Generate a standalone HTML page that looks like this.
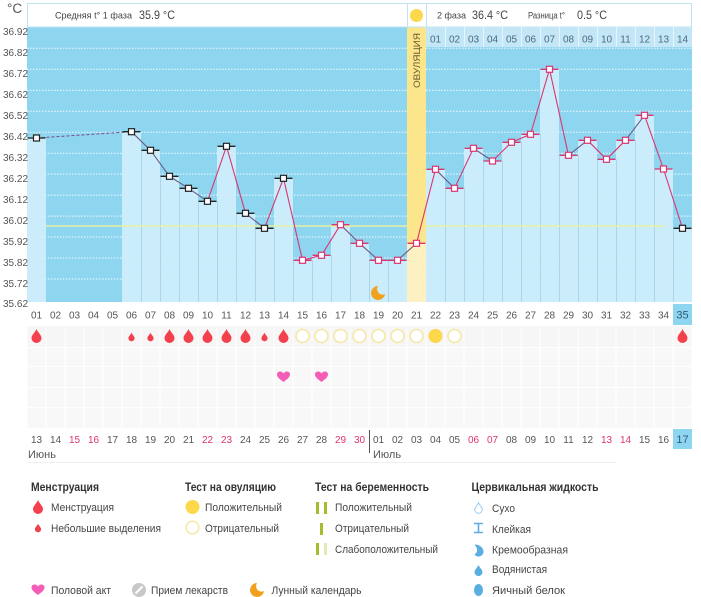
<!DOCTYPE html>
<html><head><meta charset="utf-8"><style>
html,body{margin:0;padding:0;background:#fff;}
svg{display:block;font-family:"Liberation Sans",sans-serif;}
</style></head><body>
<svg width="701" height="597" viewBox="0 0 701 597" xmlns="http://www.w3.org/2000/svg">
<rect width="701" height="597" fill="#fff"/>
<!-- chart background -->
<rect x="27" y="27" width="665" height="275" fill="#8ed5f0"/>
<!-- gridlines -->
<g stroke="#fff" stroke-width="1" stroke-dasharray="1.5 1.5" opacity="0.9">
<line x1="27" x2="692" y1="48.3" y2="48.3"/><line x1="27" x2="692" y1="69.3" y2="69.3"/>
<line x1="27" x2="692" y1="90.2" y2="90.2"/><line x1="27" x2="692" y1="111.2" y2="111.2"/>
<line x1="27" x2="692" y1="132.2" y2="132.2"/><line x1="27" x2="692" y1="153.2" y2="153.2"/>
<line x1="27" x2="692" y1="174.1" y2="174.1"/><line x1="27" x2="692" y1="195.1" y2="195.1"/>
<line x1="27" x2="692" y1="216.1" y2="216.1"/><line x1="27" x2="692" y1="237" y2="237"/>
<line x1="27" x2="692" y1="258" y2="258"/><line x1="27" x2="692" y1="279" y2="279"/>
</g>
<!-- bars -->
<g fill="#d0eefb" fill-opacity="0.92">
<rect x="27" y="138" width="19" height="164"/>
<rect x="122" y="131.7" width="19" height="170.3"/>
<rect x="141" y="150.3" width="19" height="151.7"/>
<rect x="160" y="176.3" width="19" height="125.7"/>
<rect x="179" y="188.3" width="19" height="113.7"/>
<rect x="198" y="201.3" width="19" height="100.7"/>
<rect x="217" y="146.3" width="19" height="155.7"/>
<rect x="236" y="213.3" width="19" height="88.7"/>
<rect x="255" y="228.3" width="19" height="73.7"/>
<rect x="274" y="178.3" width="19" height="123.7"/>
<rect x="293" y="260.3" width="19" height="41.7"/>
<rect x="312" y="255.3" width="19" height="46.7"/>
<rect x="331" y="224.7" width="19" height="77.3"/>
<rect x="350" y="243.3" width="19" height="58.7"/>
<rect x="369" y="260.3" width="19" height="41.7"/>
<rect x="388" y="260.3" width="19" height="41.7"/>
<rect x="426" y="169.3" width="19" height="132.7"/>
<rect x="445" y="188.3" width="19" height="113.7"/>
<rect x="464" y="148.3" width="19" height="153.7"/>
<rect x="483" y="161" width="19" height="141"/>
<rect x="502" y="142.3" width="19" height="159.7"/>
<rect x="521" y="134.3" width="19" height="167.7"/>
<rect x="540" y="69.3" width="19" height="232.7"/>
<rect x="559" y="155.3" width="19" height="146.7"/>
<rect x="578" y="140.3" width="19" height="161.7"/>
<rect x="597" y="159.3" width="19" height="142.7"/>
<rect x="616" y="140.3" width="19" height="161.7"/>
<rect x="635" y="115.3" width="19" height="186.7"/>
<rect x="654" y="169" width="19" height="133"/>
<rect x="673" y="228.3" width="19" height="73.7"/>
</g>
<!-- bar separators -->
<g stroke="#a9d6ea" stroke-width="1">
<line x1="141.5" x2="141.5" y1="150.3" y2="302"/><line x1="160.5" x2="160.5" y1="176.3" y2="302"/>
<line x1="179.5" x2="179.5" y1="188.3" y2="302"/><line x1="198.5" x2="198.5" y1="201.3" y2="302"/>
<line x1="217.5" x2="217.5" y1="201.3" y2="302"/><line x1="236.5" x2="236.5" y1="213.3" y2="302"/>
<line x1="255.5" x2="255.5" y1="228.3" y2="302"/><line x1="274.5" x2="274.5" y1="228.3" y2="302"/>
<line x1="293.5" x2="293.5" y1="260.3" y2="302"/><line x1="312.5" x2="312.5" y1="260.3" y2="302"/>
<line x1="331.5" x2="331.5" y1="255.3" y2="302"/><line x1="350.5" x2="350.5" y1="243.3" y2="302"/>
<line x1="369.5" x2="369.5" y1="260.3" y2="302"/><line x1="388.5" x2="388.5" y1="260.3" y2="302"/>
<line x1="445.5" x2="445.5" y1="188.3" y2="302"/><line x1="464.5" x2="464.5" y1="188.3" y2="302"/>
<line x1="483.5" x2="483.5" y1="161" y2="302"/><line x1="502.5" x2="502.5" y1="161" y2="302"/>
<line x1="521.5" x2="521.5" y1="142.3" y2="302"/><line x1="540.5" x2="540.5" y1="134.3" y2="302"/>
<line x1="559.5" x2="559.5" y1="155.3" y2="302"/><line x1="578.5" x2="578.5" y1="155.3" y2="302"/>
<line x1="597.5" x2="597.5" y1="159.3" y2="302"/><line x1="616.5" x2="616.5" y1="159.3" y2="302"/>
<line x1="635.5" x2="635.5" y1="140.3" y2="302"/><line x1="654.5" x2="654.5" y1="169" y2="302"/>
<line x1="673.5" x2="673.5" y1="228.3" y2="302"/>
</g>
<!-- coverline -->
<line x1="46" x2="665" y1="226" y2="226" stroke="#e6f2a2" stroke-width="1.5"/>
<!-- ovulation column -->
<rect x="407" y="27" width="19" height="275" fill="#fce68c"/>
<rect x="407" y="243.3" width="19" height="58.7" fill="#fdf1c4"/>
<text transform="translate(420,88) rotate(-90)" font-size="9.5" fill="#6b5a2c" textLength="55" lengthAdjust="spacingAndGlyphs">ОВУЛЯЦИЯ</text>
<!-- header -->
<rect x="27.5" y="3.5" width="664" height="23.5" fill="#fff" stroke="#bfe3f2" stroke-width="1"/>
<line x1="407.5" x2="407.5" y1="3.5" y2="27" stroke="#bfe3f2"/>
<line x1="426.5" x2="426.5" y1="3.5" y2="27" stroke="#bfe3f2"/>
<circle cx="416.5" cy="15.5" r="6.5" fill="#fcd84a"/>
<text x="55" y="18.5" font-size="9.5" fill="#444" textLength="77" lengthAdjust="spacingAndGlyphs">Средняя t° 1 фаза</text>
<text x="139" y="19" font-size="12" fill="#444" textLength="36" lengthAdjust="spacingAndGlyphs">35.9 °C</text>
<text x="437" y="18.5" font-size="9.5" fill="#444" textLength="29" lengthAdjust="spacingAndGlyphs">2 фаза</text>
<text x="472" y="19" font-size="12" fill="#444" textLength="36" lengthAdjust="spacingAndGlyphs">36.4 °C</text>
<text x="528" y="18.5" font-size="9" fill="#444" textLength="37" lengthAdjust="spacingAndGlyphs">Разница t°</text>
<text x="577" y="19" font-size="12" fill="#444" textLength="30" lengthAdjust="spacingAndGlyphs">0.5 °C</text>
<text x="7" y="13" font-size="13.5" fill="#555">°C</text>
<!-- phase 2 day numbers row -->
<rect x="426" y="27" width="266" height="20" fill="#c3e7f7"/>
<g stroke="#e6f5fc" stroke-width="1">
<line x1="445.5" x2="445.5" y1="27" y2="47"/><line x1="464.5" x2="464.5" y1="27" y2="47"/>
<line x1="483.5" x2="483.5" y1="27" y2="47"/><line x1="502.5" x2="502.5" y1="27" y2="47"/>
<line x1="521.5" x2="521.5" y1="27" y2="47"/><line x1="540.5" x2="540.5" y1="27" y2="47"/>
<line x1="559.5" x2="559.5" y1="27" y2="47"/><line x1="578.5" x2="578.5" y1="27" y2="47"/>
<line x1="597.5" x2="597.5" y1="27" y2="47"/><line x1="616.5" x2="616.5" y1="27" y2="47"/>
<line x1="635.5" x2="635.5" y1="27" y2="47"/><line x1="654.5" x2="654.5" y1="27" y2="47"/>
<line x1="673.5" x2="673.5" y1="27" y2="47"/>
</g>
<g font-size="10" fill="#4d6a7d" text-anchor="middle">
<text x="435.5" y="42.5">01</text><text x="454.5" y="42.5">02</text><text x="473.5" y="42.5">03</text>
<text x="492.5" y="42.5">04</text><text x="511.5" y="42.5">05</text><text x="530.5" y="42.5">06</text>
<text x="549.5" y="42.5">07</text><text x="568.5" y="42.5">08</text><text x="587.5" y="42.5">09</text>
<text x="606.5" y="42.5">10</text><text x="625.5" y="42.5">11</text><text x="644.5" y="42.5">12</text>
<text x="663.5" y="42.5">13</text><text x="682.5" y="42.5">14</text>
</g>
<!-- y labels -->
<g font-size="10" fill="#555">
<text x="3" y="35">36.92</text><text x="3" y="56">36.82</text><text x="3" y="77">36.72</text>
<text x="3" y="98">36.62</text><text x="3" y="119">36.52</text><text x="3" y="140">36.42</text>
<text x="3" y="161">36.32</text><text x="3" y="182">36.22</text><text x="3" y="203">36.12</text>
<text x="3" y="224">36.02</text><text x="3" y="245">35.92</text><text x="3" y="266">35.82</text>
<text x="3" y="287">35.72</text><text x="3" y="307">35.62</text>
</g>
<!-- moon in chart -->
<path transform="translate(379,293)" d="M-1,-7 A7,7 0 1,0 6,1 A5.5,5.5 0 0,1 -1,-7Z" fill="#f2a11e"/>
<!-- temperature line -->
<line x1="36.5" y1="138" x2="131.5" y2="131.7" stroke="#7a4d86" stroke-width="1" stroke-dasharray="3 2"/>
<g stroke-width="1.1" fill="none">
<polyline stroke="#6e5a86" points="131.5,131.7 150.5,150.3 169.5,176.3 188.5,188.3 207.5,201.3"/>
<polyline stroke="#d93672" points="207.5,201.3 226.5,146.3 245.5,213.3"/>
<line stroke="#6e5a86" x1="245.5" y1="213.3" x2="264.5" y2="228.3"/>
<polyline stroke="#d93672" points="264.5,228.3 283.5,178.3 302.5,260.3 321.5,255.3 340.5,224.7"/>
<polyline stroke="#6e5a86" points="340.5,224.7 359.5,243.3 378.5,260.3 397.5,260.3 416.5,243.3"/>
<line stroke="#d93672" x1="416.5" y1="243.3" x2="435.5" y2="169.3"/>
<line stroke="#6e5a86" x1="435.5" y1="169.3" x2="454.5" y2="188.3"/>
<line stroke="#d93672" x1="454.5" y1="188.3" x2="473.5" y2="148.3"/>
<line stroke="#6e5a86" x1="473.5" y1="148.3" x2="492.5" y2="161"/>
<polyline stroke="#d93672" points="492.5,161 511.5,142.3 530.5,134.3 549.5,69.3 568.5,155.3"/>
<line stroke="#6e5a86" x1="568.5" y1="155.3" x2="587.5" y2="140.3"/>
<polyline stroke="#d93672" points="587.5,140.3 606.5,159.3 625.5,140.3"/>
<line stroke="#6e5a86" x1="625.5" y1="140.3" x2="644.5" y2="115.3"/>
<polyline stroke="#d93672" points="644.5,115.3 663.5,169 682.5,228.3"/>
</g>
<!-- ticks black -->
<g stroke="#222" stroke-width="1.3">
<line x1="27.5" x2="45.5" y1="138" y2="138"/><line x1="122.5" x2="140.5" y1="131.7" y2="131.7"/>
<line x1="141.5" x2="159.5" y1="150.3" y2="150.3"/><line x1="160.5" x2="178.5" y1="176.3" y2="176.3"/>
<line x1="179.5" x2="197.5" y1="188.3" y2="188.3"/><line x1="198.5" x2="216.5" y1="201.3" y2="201.3"/>
<line x1="217.5" x2="235.5" y1="146.3" y2="146.3"/><line x1="236.5" x2="254.5" y1="213.3" y2="213.3"/>
<line x1="255.5" x2="273.5" y1="228.3" y2="228.3"/><line x1="274.5" x2="292.5" y1="178.3" y2="178.3"/>
<line x1="673.5" x2="691.5" y1="228.3" y2="228.3"/>
</g>
<g stroke="#d93672" stroke-width="1.3">
<line x1="293.5" x2="311.5" y1="260.3" y2="260.3"/><line x1="312.5" x2="330.5" y1="255.3" y2="255.3"/>
<line x1="331.5" x2="349.5" y1="224.7" y2="224.7"/><line x1="350.5" x2="368.5" y1="243.3" y2="243.3"/>
<line x1="369.5" x2="387.5" y1="260.3" y2="260.3"/><line x1="388.5" x2="406.5" y1="260.3" y2="260.3"/>
<line x1="407.5" x2="425.5" y1="243.3" y2="243.3"/><line x1="426.5" x2="444.5" y1="169.3" y2="169.3"/>
<line x1="445.5" x2="463.5" y1="188.3" y2="188.3"/><line x1="464.5" x2="482.5" y1="148.3" y2="148.3"/>
<line x1="483.5" x2="501.5" y1="161" y2="161"/><line x1="502.5" x2="520.5" y1="142.3" y2="142.3"/>
<line x1="521.5" x2="539.5" y1="134.3" y2="134.3"/><line x1="540.5" x2="558.5" y1="69.3" y2="69.3"/>
<line x1="559.5" x2="577.5" y1="155.3" y2="155.3"/><line x1="578.5" x2="596.5" y1="140.3" y2="140.3"/>
<line x1="597.5" x2="615.5" y1="159.3" y2="159.3"/><line x1="616.5" x2="634.5" y1="140.3" y2="140.3"/>
<line x1="635.5" x2="653.5" y1="115.3" y2="115.3"/><line x1="654.5" x2="672.5" y1="169" y2="169"/>
</g>
<!-- markers -->
<g fill="#fff" stroke="#222" stroke-width="1.2">
<rect x="33.5" y="135" width="6" height="6"/><rect x="128.5" y="128.7" width="6" height="6"/>
<rect x="147.5" y="147.3" width="6" height="6"/><rect x="166.5" y="173.3" width="6" height="6"/>
<rect x="185.5" y="185.3" width="6" height="6"/><rect x="204.5" y="198.3" width="6" height="6"/>
<rect x="223.5" y="143.3" width="6" height="6"/><rect x="242.5" y="210.3" width="6" height="6"/>
<rect x="261.5" y="225.3" width="6" height="6"/><rect x="280.5" y="175.3" width="6" height="6"/>
<rect x="679.5" y="225.3" width="6" height="6"/>
</g>
<g fill="#fff" stroke="#d93672" stroke-width="1.2">
<rect x="299.5" y="257.3" width="6" height="6"/><rect x="318.5" y="252.3" width="6" height="6"/>
<rect x="337.5" y="221.7" width="6" height="6"/><rect x="356.5" y="240.3" width="6" height="6"/>
<rect x="375.5" y="257.3" width="6" height="6"/><rect x="394.5" y="257.3" width="6" height="6"/>
<rect x="413.5" y="240.3" width="6" height="6"/><rect x="432.5" y="166.3" width="6" height="6"/>
<rect x="451.5" y="185.3" width="6" height="6"/><rect x="470.5" y="145.3" width="6" height="6"/>
<rect x="489.5" y="158" width="6" height="6"/><rect x="508.5" y="139.3" width="6" height="6"/>
<rect x="527.5" y="131.3" width="6" height="6"/><rect x="546.5" y="66.3" width="6" height="6"/>
<rect x="565.5" y="152.3" width="6" height="6"/><rect x="584.5" y="137.3" width="6" height="6"/>
<rect x="603.5" y="156.3" width="6" height="6"/><rect x="622.5" y="137.3" width="6" height="6"/>
<rect x="641.5" y="112.3" width="6" height="6"/><rect x="660.5" y="166" width="6" height="6"/>
</g>
<!-- x labels -->
<rect x="673" y="304" width="19" height="21" fill="#8ed5f0"/>
<g font-size="10" fill="#555" text-anchor="middle">
<text x="36.5" y="318.5">01</text><text x="55.5" y="318.5">02</text><text x="74.5" y="318.5">03</text>
<text x="93.5" y="318.5">04</text><text x="112.5" y="318.5">05</text><text x="131.5" y="318.5">06</text>
<text x="150.5" y="318.5">07</text><text x="169.5" y="318.5">08</text><text x="188.5" y="318.5">09</text>
<text x="207.5" y="318.5">10</text><text x="226.5" y="318.5">11</text><text x="245.5" y="318.5">12</text>
<text x="264.5" y="318.5">13</text><text x="283.5" y="318.5">14</text><text x="302.5" y="318.5">15</text>
<text x="321.5" y="318.5">16</text><text x="340.5" y="318.5">17</text><text x="359.5" y="318.5">18</text>
<text x="378.5" y="318.5">19</text><text x="397.5" y="318.5">20</text><text x="416.5" y="318.5">21</text>
<text x="435.5" y="318.5">22</text><text x="454.5" y="318.5">23</text><text x="473.5" y="318.5">24</text>
<text x="492.5" y="318.5">25</text><text x="511.5" y="318.5">26</text><text x="530.5" y="318.5">27</text>
<text x="549.5" y="318.5">28</text><text x="568.5" y="318.5">29</text><text x="587.5" y="318.5">30</text>
<text x="606.5" y="318.5">31</text><text x="625.5" y="318.5">32</text><text x="644.5" y="318.5">33</text>
<text x="663.5" y="318.5">34</text><text x="682.5" y="318.5" font-size="11" fill="#2d5a78">35</text>
</g>
<!-- faint grid cells -->
<defs>
<pattern id="cells" x="27" y="326" width="19" height="102" patternUnits="userSpaceOnUse">
<rect x="0.5" y="0" width="18" height="21" fill="#f6f6f6"/>
<rect x="0.5" y="22" width="18" height="18" fill="#f8f8f8"/>
<rect x="0.5" y="41" width="18" height="20" fill="#f8f8f8"/>
<rect x="0.5" y="62" width="18" height="19" fill="#f8f8f8"/>
<rect x="0.5" y="82" width="18" height="20" fill="#f8f8f8"/>
</pattern>
</defs>
<rect x="27" y="326" width="665" height="102" fill="url(#cells)"/>
<!-- drops -->
<g fill="#f2404c">
<path transform="translate(36.5,336)" d="M0,-7 C1,-4 5,-1 5,2 A5,5 0 0 1 -5,2 C-5,-1 -1,-4 0,-7Z"/>
<path transform="translate(131.5,337) scale(0.62)" d="M0,-7 C1,-4 5,-1 5,2 A5,5 0 0 1 -5,2 C-5,-1 -1,-4 0,-7Z"/>
<path transform="translate(150.5,337) scale(0.62)" d="M0,-7 C1,-4 5,-1 5,2 A5,5 0 0 1 -5,2 C-5,-1 -1,-4 0,-7Z"/>
<path transform="translate(169.5,336)" d="M0,-7 C1,-4 5,-1 5,2 A5,5 0 0 1 -5,2 C-5,-1 -1,-4 0,-7Z"/>
<path transform="translate(188.5,336)" d="M0,-7 C1,-4 5,-1 5,2 A5,5 0 0 1 -5,2 C-5,-1 -1,-4 0,-7Z"/>
<path transform="translate(207.5,336)" d="M0,-7 C1,-4 5,-1 5,2 A5,5 0 0 1 -5,2 C-5,-1 -1,-4 0,-7Z"/>
<path transform="translate(226.5,336)" d="M0,-7 C1,-4 5,-1 5,2 A5,5 0 0 1 -5,2 C-5,-1 -1,-4 0,-7Z"/>
<path transform="translate(245.5,336)" d="M0,-7 C1,-4 5,-1 5,2 A5,5 0 0 1 -5,2 C-5,-1 -1,-4 0,-7Z"/>
<path transform="translate(264.5,337) scale(0.62)" d="M0,-7 C1,-4 5,-1 5,2 A5,5 0 0 1 -5,2 C-5,-1 -1,-4 0,-7Z"/>
<path transform="translate(283.5,336)" d="M0,-7 C1,-4 5,-1 5,2 A5,5 0 0 1 -5,2 C-5,-1 -1,-4 0,-7Z"/>
<path transform="translate(682.5,336)" d="M0,-7 C1,-4 5,-1 5,2 A5,5 0 0 1 -5,2 C-5,-1 -1,-4 0,-7Z"/>
</g>
<!-- ovulation tests -->
<g fill="#fff" stroke="#f6e7a6" stroke-width="1.6">
<circle cx="302.5" cy="336" r="6.5"/><circle cx="321.5" cy="336" r="6.5"/><circle cx="340.5" cy="336" r="6.5"/>
<circle cx="359.5" cy="336" r="6.5"/><circle cx="378.5" cy="336" r="6.5"/><circle cx="397.5" cy="336" r="6.5"/>
<circle cx="416.5" cy="336" r="6.5"/><circle cx="454.5" cy="336" r="6.5"/>
</g>
<circle cx="435.5" cy="336" r="7" fill="#fcd84a"/>
<!-- hearts -->
<g fill="#f45db6">
<path transform="translate(283.5,377)" d="M0,5 C-4,2 -6.5,0 -6.5,-2.5 C-6.5,-4.5 -5,-5.5 -3.3,-5.5 C-1.8,-5.5 -0.6,-4.6 0,-3.5 C0.6,-4.6 1.8,-5.5 3.3,-5.5 C5,-5.5 6.5,-4.5 6.5,-2.5 C6.5,0 4,2 0,5Z"/>
<path transform="translate(321.5,377)" d="M0,5 C-4,2 -6.5,0 -6.5,-2.5 C-6.5,-4.5 -5,-5.5 -3.3,-5.5 C-1.8,-5.5 -0.6,-4.6 0,-3.5 C0.6,-4.6 1.8,-5.5 3.3,-5.5 C5,-5.5 6.5,-4.5 6.5,-2.5 C6.5,0 4,2 0,5Z"/>
</g>
<!-- dates row -->
<rect x="673" y="429" width="19" height="20" fill="#8ed5f0"/>
<g font-size="10" fill="#555" text-anchor="middle">
<text x="36.5" y="443">13</text><text x="55.5" y="443">14</text><text x="74.5" y="443" fill="#e0356e">15</text>
<text x="93.5" y="443" fill="#e0356e">16</text><text x="112.5" y="443">17</text><text x="131.5" y="443">18</text>
<text x="150.5" y="443">19</text><text x="169.5" y="443">20</text><text x="188.5" y="443">21</text>
<text x="207.5" y="443" fill="#e0356e">22</text><text x="226.5" y="443" fill="#e0356e">23</text><text x="245.5" y="443">24</text>
<text x="264.5" y="443">25</text><text x="283.5" y="443">26</text><text x="302.5" y="443">27</text>
<text x="321.5" y="443">28</text><text x="340.5" y="443" fill="#e0356e">29</text><text x="359.5" y="443" fill="#e0356e">30</text>
<text x="378.5" y="443">01</text><text x="397.5" y="443">02</text><text x="416.5" y="443">03</text>
<text x="435.5" y="443">04</text><text x="454.5" y="443">05</text><text x="473.5" y="443" fill="#e0356e">06</text>
<text x="492.5" y="443" fill="#e0356e">07</text><text x="511.5" y="443">08</text><text x="530.5" y="443">09</text>
<text x="549.5" y="443">10</text><text x="568.5" y="443">11</text><text x="587.5" y="443">12</text>
<text x="606.5" y="443" fill="#e0356e">13</text><text x="625.5" y="443" fill="#e0356e">14</text><text x="644.5" y="443">15</text>
<text x="663.5" y="443">16</text><text x="682.5" y="443" font-size="11" fill="#2d5a78">17</text>
</g>
<line x1="369.5" x2="369.5" y1="430" y2="453" stroke="#555" stroke-width="1"/>
<text x="28" y="458" font-size="11" fill="#555">Июнь</text>
<text x="373" y="458" font-size="11" fill="#555">Июль</text>
<line x1="27" x2="617" y1="462.5" y2="462.5" stroke="#f0f0f0"/>
<!-- legend headers -->
<g font-size="11.5" font-weight="bold" fill="#333">
<text x="31" y="491" textLength="68" lengthAdjust="spacingAndGlyphs">Менструация</text>
<text x="185" y="491" textLength="91" lengthAdjust="spacingAndGlyphs">Тест на овуляцию</text>
<text x="315" y="491" textLength="114" lengthAdjust="spacingAndGlyphs">Тест на беременность</text>
<text x="471.5" y="491" textLength="127" lengthAdjust="spacingAndGlyphs">Цервикальная жидкость</text>
</g>
<!-- legend items -->
<g font-size="11" fill="#444">
<text x="51" y="511" textLength="63" lengthAdjust="spacingAndGlyphs">Менструация</text>
<text x="51" y="532" textLength="110" lengthAdjust="spacingAndGlyphs">Небольшие выделения</text>
<text x="205" y="511" textLength="77" lengthAdjust="spacingAndGlyphs">Положительный</text>
<text x="205" y="532" textLength="74" lengthAdjust="spacingAndGlyphs">Отрицательный</text>
<text x="335" y="511" textLength="77" lengthAdjust="spacingAndGlyphs">Положительный</text>
<text x="335" y="532" textLength="74" lengthAdjust="spacingAndGlyphs">Отрицательный</text>
<text x="335" y="553" textLength="103" lengthAdjust="spacingAndGlyphs">Слабоположительный</text>
<text x="492" y="512" textLength="23" lengthAdjust="spacingAndGlyphs">Сухо</text>
<text x="492" y="533" textLength="39" lengthAdjust="spacingAndGlyphs">Клейкая</text>
<text x="492" y="553.5" textLength="76" lengthAdjust="spacingAndGlyphs">Кремообразная</text>
<text x="492" y="573" textLength="55" lengthAdjust="spacingAndGlyphs">Водянистая</text>
<text x="492" y="594" textLength="73" lengthAdjust="spacingAndGlyphs">Яичный белок</text>
<text x="51" y="594" textLength="60" lengthAdjust="spacingAndGlyphs">Половой акт</text>
<text x="151" y="594" textLength="77" lengthAdjust="spacingAndGlyphs">Прием лекарств</text>
<text x="271.5" y="594" textLength="90" lengthAdjust="spacingAndGlyphs">Лунный календарь</text>
</g>
<!-- legend icons -->
<path transform="translate(38,507)" d="M0,-7 C1,-4 5,-1 5,2 A5,5 0 0 1 -5,2 C-5,-1 -1,-4 0,-7Z" fill="#f2404c"/>
<path transform="translate(38,528) scale(0.62)" d="M0,-7 C1,-4 5,-1 5,2 A5,5 0 0 1 -5,2 C-5,-1 -1,-4 0,-7Z" fill="#f2404c"/>
<circle cx="192.5" cy="507" r="7" fill="#fcd84a"/>
<circle cx="192.5" cy="527.5" r="6.3" fill="#fff" stroke="#f6e7a6" stroke-width="1.5"/>
<rect x="316" y="502" width="3" height="12" fill="#a3bd2b"/><rect x="324" y="502" width="3" height="12" fill="#a3bd2b"/>
<rect x="320" y="523" width="3" height="12" fill="#a3bd2b"/>
<rect x="316" y="543" width="3" height="12" fill="#a3bd2b"/><rect x="324" y="543" width="3" height="12" fill="#e2eab7"/>
<!-- cervical icons -->
<path transform="translate(478.5,508) scale(0.75)" d="M0,-7 C1,-4 5,-1 5,2 A5,5 0 0 1 -5,2 C-5,-1 -1,-4 0,-7Z" fill="#fff" stroke="#8cc8ee" stroke-width="1.2"/>
<path d="M474,523.5 h9 M478.5,523.5 v9 M474,532.5 h9" stroke="#5aaee2" stroke-width="1.6" fill="none"/>
<path transform="translate(478.5,549.5)" d="M-4,-5 C2,-5 5,-1 5,2 A5,5 0 0 1 -4,5 C-1,3 0,0 -4,-5Z" fill="#5aaee2"/>
<path transform="translate(478.5,570.5) scale(0.8)" d="M0,-7 C1,-4 5,-1 5,2 A5,5 0 0 1 -5,2 C-5,-1 -1,-4 0,-7Z" fill="#5aaee2"/>
<ellipse cx="478.5" cy="590" rx="4.5" ry="6" fill="#5aaee2"/>
<!-- bottom icons -->
<path transform="translate(38,590)" d="M0,5 C-4,2 -6.5,0 -6.5,-2.5 C-6.5,-4.5 -5,-5.5 -3.3,-5.5 C-1.8,-5.5 -0.6,-4.6 0,-3.5 C0.6,-4.6 1.8,-5.5 3.3,-5.5 C5,-5.5 6.5,-4.5 6.5,-2.5 C6.5,0 4,2 0,5Z" fill="#f45db6"/>
<circle cx="139" cy="590" r="7" fill="#c8c8c8"/>
<line x1="135.5" y1="593.5" x2="142.5" y2="586.5" stroke="#fff" stroke-width="2"/>
<path transform="translate(258,590)" d="M-1,-7 A7,7 0 1,0 6,1 A5.5,5.5 0 0,1 -1,-7Z" fill="#f2a11e"/>
</svg>
</body></html>
